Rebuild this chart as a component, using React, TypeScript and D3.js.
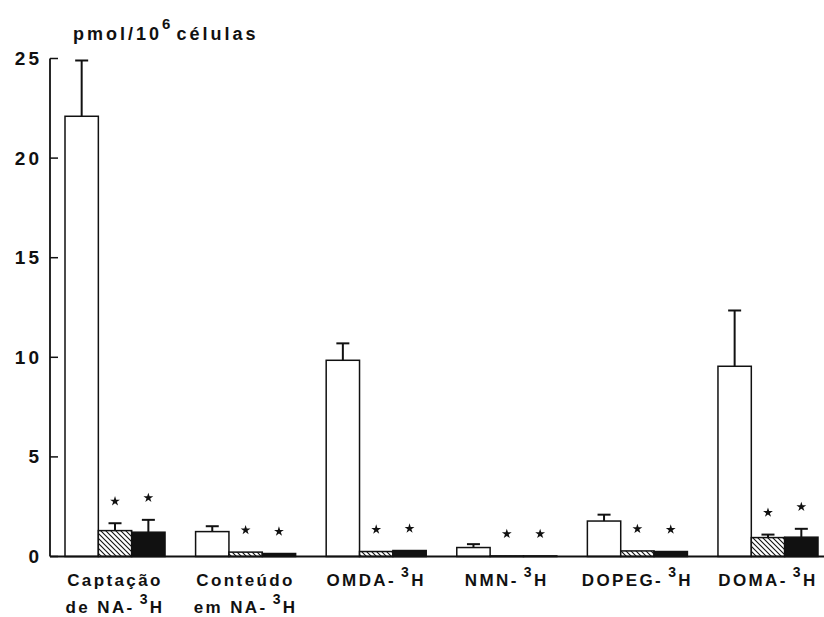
import React from "react";
import * as d3 from "d3";

// Categories (label lines; "^3" marks a superscript 3)
const categoryLines: string[][] = [
  ["Captação", "de NA-^3H"],
  ["Conteúdo", "em NA-^3H"],
  ["OMDA-^3H"],
  ["NMN-^3H"],
  ["DOPEG-^3H"],
  ["DOMA-^3H"],
];

// Three treatments per category: open, hatched, solid
const openValues = [22.1, 1.25, 9.85, 0.45, 1.78, 9.55];
const openErrors = [2.8, 0.27, 0.85, 0.17, 0.32, 2.8];
const hatchedValues = [1.3, 0.22, 0.25, 0.03, 0.28, 0.95];
const hatchedErrors = [0.37, 0, 0, 0, 0, 0.15];
const solidValues = [1.22, 0.15, 0.3, 0.03, 0.25, 0.97];
const solidErrors = [0.62, 0, 0, 0, 0, 0.42];
const hatchedSignificant = [true, true, true, true, true, true];
const solidSignificant = [true, true, true, true, true, true];

const yTicks = [0, 5, 10, 15, 20, 25];

const W = 824;
const H = 617;
const FONT = "'Liberation Sans', Arial, Helvetica, sans-serif";

function LabelText({ text, x, y }: { text: string; x: number; y: number }) {
  const parts = text.split("^3");
  return (
    <text
      x={x}
      y={y}
      textAnchor="middle"
      fontFamily={FONT}
      fontWeight="bold"
      fontSize={17}
      letterSpacing={2.4}
      fill="#111"
    >
      {parts.length === 1 ? (
        parts[0]
      ) : (
        <>
          <tspan>{parts[0]}</tspan>
          <tspan dx={5} dy={-9} fontSize={14}>3</tspan>
          <tspan dy={9}>{parts[1]}</tspan>
        </>
      )}
    </text>
  );
}

export default function App() {
  const y = d3.scaleLinear().domain([0, 25]).range([556.5, 58.5]);
  const x0 = d3
    .scaleBand<number>()
    .domain(d3.range(categoryLines.length))
    .range([65, 818])
    .paddingInner(0.234)
    .paddingOuter(0);
  const x1 = d3
    .scaleBand<number>()
    .domain([0, 1, 2])
    .range([0, x0.bandwidth()]);

  const series = [
    { values: openValues, errors: openErrors, fill: "#fff", sig: null as boolean[] | null },
    { values: hatchedValues, errors: hatchedErrors, fill: "url(#hatch)", sig: hatchedSignificant },
    { values: solidValues, errors: solidErrors, fill: "#111", sig: solidSignificant },
  ];

  const star = d3.symbol().type(d3.symbolStar).size(30)();
  const axisX = 50;

  return (
    <svg
      width={W}
      height={H}
      style={{ position: "absolute", left: 0, top: 0, background: "#fff" }}
    >
      <defs>
        <pattern id="hatch" patternUnits="userSpaceOnUse" width={5} height={5}>
          <rect width={5} height={5} fill="#fff" />
          <path
            d="M0,0 L5,5 M-1,4 L1,6 M4,-1 L6,1"
            stroke="#111"
            strokeWidth={1.1}
          />
        </pattern>
      </defs>

      {/* y axis title */}
      <text x={73} y={40} fontFamily={FONT} fontWeight="bold" fontSize={18} letterSpacing={3} fill="#111">
        <tspan>pmol/10</tspan>
        <tspan dy={-11} fontSize={15}>6</tspan>
        <tspan dy={11} dx={3}>células</tspan>
      </text>

      {/* bars */}
      {categoryLines.map((_, gi) =>
        series.map((s, si) => {
          const bx = (x0(gi) as number) + (x1(si) as number);
          const bw = x1.bandwidth();
          const v = s.values[gi];
          const e = s.errors[gi];
          const top = y(v);
          const cx = bx + bw / 2;
          return (
            <g key={`${gi}-${si}`}>
              <rect
                x={bx}
                y={top}
                width={bw}
                height={y(0) - top}
                fill={s.fill}
                stroke="#111"
                strokeWidth={1.5}
              />
              {e > 0 && (
                <g stroke="#111" strokeWidth={2}>
                  <line x1={cx} x2={cx} y1={top} y2={y(v + e)} />
                  <line x1={cx - 6.5} x2={cx + 6.5} y1={y(v + e)} y2={y(v + e)} />
                </g>
              )}
              {s.sig && s.sig[gi] && (
                <path d={star as string} transform={`translate(${cx},${y(v + e) - 22})`} fill="#111" />
              )}
            </g>
          );
        })
      )}

      {/* axes */}
      <line x1={axisX} x2={axisX} y1={y(25)} y2={y(0)} stroke="#111" strokeWidth={1.8} />
      <line x1={axisX} x2={W} y1={y(0)} y2={y(0)} stroke="#111" strokeWidth={1.8} />
      {yTicks.map((t) => (
        <g key={t}>
          <line x1={axisX} x2={axisX + 8} y1={y(t)} y2={y(t)} stroke="#111" strokeWidth={1.5} />
          <text
            x={42}
            y={y(t) + 6.5}
            textAnchor="end"
            fontFamily={FONT}
            fontWeight="bold"
            fontSize={19}
            letterSpacing={3}
            fill="#111"
          >
            {t}
          </text>
        </g>
      ))}

      {/* category labels */}
      {categoryLines.map((lines, gi) => {
        const cx = (x0(gi) as number) + x0.bandwidth() / 2;
        return (
          <g key={gi}>
            {lines.map((ln, li) => (
              <LabelText key={li} text={ln} x={cx} y={586 + li * 27} />
            ))}
          </g>
        );
      })}
    </svg>
  );
}
